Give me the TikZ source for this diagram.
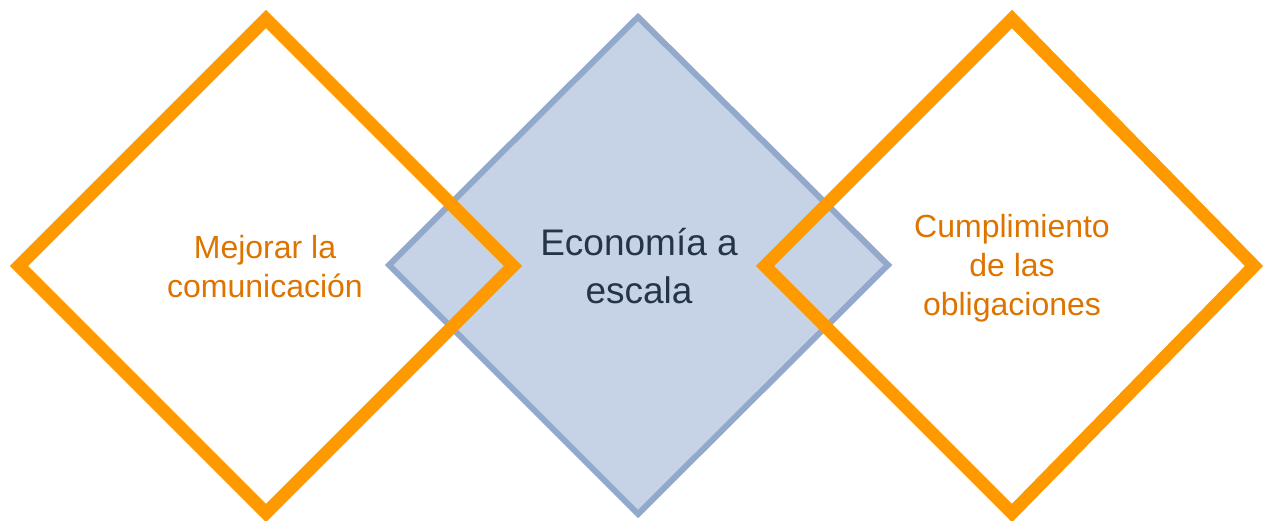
\documentclass[tikz,border=0pt]{standalone}
\usepackage{fontspec}
\setmainfont{Liberation Sans}
\definecolor{orangeline}{HTML}{FF9900}
\definecolor{orangetext}{HTML}{DE7400}
\definecolor{bluefill}{HTML}{C6D3E6}
\definecolor{blueline}{HTML}{93A9CB}
\definecolor{darktext}{HTML}{253448}
\begin{document}
\begin{tikzpicture}[x=1pt,y=-1pt,
  odiam/.style={draw=orangeline,line width=13pt,line join=miter},
  bdiam/.style={draw=blueline,fill=bluefill,line width=6pt,line join=miter},
  otext/.style={text=orangetext,font=\fontsize{32}{39}\selectfont,align=center,inner sep=0pt},
  btext/.style={text=darktext,font=\fontsize{37}{48}\selectfont,align=center,inner sep=0pt}]
\useasboundingbox (0,0) rectangle (1263,521);
% middle diamond
\coordinate (mt) at (638,17);
\coordinate (mr) at (888,265);
\coordinate (mb) at (638,514);
\coordinate (ml) at (389,265);
\draw[bdiam] (mt) -- (mr) -- (mb) -- (ml) -- cycle;
% left diamond
\coordinate (lt) at (266,19);
\coordinate (lr) at (513,266);
\coordinate (lb) at (266,513);
\coordinate (ll) at (19,266);
\draw[odiam] (lt) -- (lr) -- (lb) -- (ll) -- cycle;
% right diamond
\coordinate (rt) at (1012,19);
\coordinate (rr) at (1254,266);
\coordinate (rb) at (1012,513);
\coordinate (rl) at (765,266);
\draw[odiam] (rt) -- (rr) -- (rb) -- (rl) -- cycle;
% texts
\node[otext] (t1) at (265,267) {Mejorar la\\comunicación};
\node[btext] (t2) at (639,266) {Economía a\\escala};
\node[otext] (t3) at (1012,268) {Cumplimiento\\de las\\obligaciones};
\end{tikzpicture}
\end{document}
